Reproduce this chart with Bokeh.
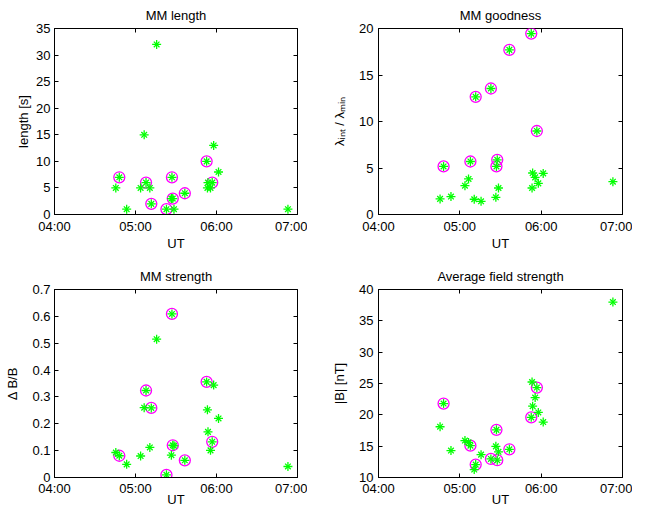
from bokeh.plotting import figure
from bokeh.layouts import column, row
from bokeh.models import LinearAxis, FixedTicker, Range1d
from bokeh.embed import file_html
from bokeh.resources import INLINE

# ---------------- data (decimal hours UT) ----------------
# events without a selection circle
t_all = [4.757, 4.891, 5.063, 5.107, 5.177, 5.261, 5.443, 5.475,
         5.888, 5.895, 5.926, 5.965, 6.025, 6.882]
length_all = [5, 1, 5, 15, 5, 32, 3, 1, 5, 6, 5, 13, 8, 1]
goodness_all = [1.68, 1.93, 3.1, 3.82, 1.64, 1.42, 1.85, 2.85,
                2.85, 4.46, 3.99, 3.35, 4.42, 3.53]
strength_all = [0.093, 0.049, 0.08, 0.26, 0.112, 0.515, 0.083, 0.118,
                0.252, 0.17, 0.101, 0.344, 0.22, 0.041]
field_all = [18.1, 14.3, 15.9, 15.6, 11.27, 13.65, 14.97, 14.1,
             25.24, 21.38, 22.76, 20.38, 18.85, 38.0]

# selected (circled) events
t_sel = [4.800, 5.130, 5.195, 5.382, 5.450, 5.460, 5.609, 5.878, 5.947]
length_sel = [7, 6, 2, 1, 7, 3, 4, 10, 6]
goodness_sel = [5.17, 5.7, 12.65, 13.55, 5.17, 5.88, 17.7, 19.45, 8.98]
strength_sel = [0.081, 0.324, 0.259, 0.01, 0.609, 0.12, 0.064, 0.356, 0.133]
field_sel = [21.8, 15.08, 12.06, 12.96, 17.6, 12.76, 14.5, 19.6, 24.35]

x_ticks = [4, 5, 6, 7]
x_tick_labels = ["04:00", "05:00", "06:00", "07:00"]

length_ticks = [0, 5, 10, 15, 20, 25, 30, 35]
length_labels = ["0", "5", "10", "15", "20", "25", "30", "35"]
goodness_ticks = [0, 5, 10, 15, 20]
goodness_labels = ["0", "5", "10", "15", "20"]
strength_ticks = [0, 0.1, 0.2, 0.3, 0.4, 0.5, 0.6, 0.7]
strength_labels = ["0", "0.1", "0.2", "0.3", "0.4", "0.5", "0.6", "0.7"]
field_ticks = [10, 15, 20, 25, 30, 35, 40]
field_labels = ["10", "15", "20", "25", "30", "35", "40"]

FONT = "Liberation Sans"
FS = "13px"
GREEN = "#00FF00"
MAGENTA = "#FF00FF"


def style_axis(ax, ticks, labels, show_labels=True):
    ax.ticker = FixedTicker(ticks=ticks)
    ax.major_label_overrides = {tk: lb for tk, lb in zip(ticks, labels)}
    ax.major_tick_in = 4
    ax.major_tick_out = 0
    ax.minor_tick_line_color = None
    ax.major_tick_line_color = "black"
    ax.axis_line_color = "black"
    ax.major_label_text_font = FONT
    ax.major_label_text_color = "black"
    ax.axis_label_text_font = FONT
    ax.axis_label_text_font_style = "normal"
    ax.axis_label_text_color = "black"
    ax.axis_label_text_font_size = FS
    if show_labels:
        ax.major_label_text_font_size = FS
    else:
        ax.major_label_text_font_size = "0px"
        ax.major_label_standoff = 0
        ax.axis_line_color = None


def panel(title, ylabel, ys_all, ys_sel, ylim, yticks, ylabels,
          w, h, bl, br, bt, bb, tick_standoff, ylab_standoff,
          xtick_standoff, xlab_standoff):
    p = figure(width=w, height=h, output_backend="svg",
               toolbar_location=None, x_range=Range1d(4, 7),
               y_range=Range1d(*ylim),
               min_border_left=bl, min_border_right=br,
               min_border_top=bt, min_border_bottom=bb,
               background_fill_color="white", border_fill_color="white")
    p.title.text = title
    p.title.text_font = FONT
    p.title.text_font_size = FS
    p.title.text_font_style = "normal"
    p.title.text_color = "black"
    p.title.align = "center"
    p.title.standoff = 11
    p.xgrid.visible = False
    p.ygrid.visible = False
    p.outline_line_color = "black"
    p.outline_line_alpha = 1.0
    p.outline_line_width = 1

    style_axis(p.xaxis[0], x_ticks, x_tick_labels)
    p.xaxis[0].axis_label = "UT"
    p.xaxis[0].major_label_standoff = xtick_standoff
    p.xaxis[0].axis_label_standoff = xlab_standoff
    style_axis(p.yaxis[0], yticks, ylabels)
    p.yaxis[0].axis_label = ylabel
    p.yaxis[0].major_label_standoff = tick_standoff
    p.yaxis[0].axis_label_standoff = ylab_standoff

    top = LinearAxis()
    style_axis(top, x_ticks, ["" for _ in x_ticks], show_labels=False)
    p.add_layout(top, "above")
    right = LinearAxis()
    style_axis(right, yticks, ["" for _ in yticks], show_labels=False)
    p.add_layout(right, "right")

    p.scatter(t_sel, ys_sel, marker="circle", size=11, fill_color=None,
              line_color=MAGENTA, line_width=1.3)
    for tt, yy in ((t_all, ys_all), (t_sel, ys_sel)):
        p.scatter(tt, yy, marker="cross", size=9, line_color=GREEN,
                  line_width=1.3)
        p.scatter(tt, yy, marker="x", size=8, line_color=GREEN,
                  line_width=1.3)
    return p


pa = panel("MM length", "length [s]", length_all, length_sel, (0, 35),
           length_ticks, length_labels, 307, 261, 54, 10, 27, 47, 4, 2, 4, -1)
pb = panel("MM goodness", "\u03bb\u1d62\u2099\u209c / \u03bb\u2098\u1d62\u2099",
           goodness_all, goodness_sel, (0, 20),
           goodness_ticks, goodness_labels, 325, 261, 71, 10, 27, 47, 5, 9, 4, -1)
pc = panel("MM strength", "\u0394 B/B", strength_all, strength_sel, (0, 0.7),
           strength_ticks, strength_labels, 307, 249, 54, 10, 27, 33, 4, 9, 3, -7)
pd = panel("Average field strength", "|B| [nT]", field_all, field_sel, (10, 40),
           field_ticks, field_labels, 325, 249, 71, 10, 27, 33, 5, 9, 3, -7)

layout = column(row(pa, pb), row(pc, pd))

open("out.html", "w").write(file_html(layout, INLINE))
